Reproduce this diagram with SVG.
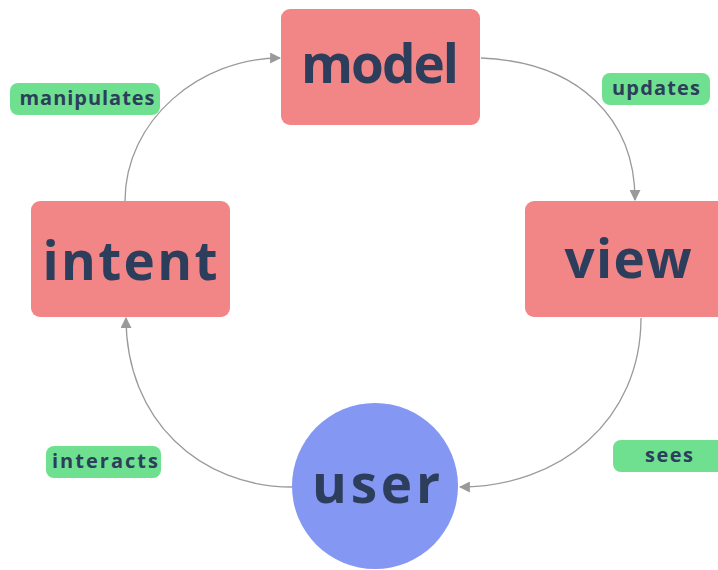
<svg xmlns="http://www.w3.org/2000/svg" width="718" height="570" viewBox="0 0 718 570">
<style>
.box{fill:#f28585;}
.user{fill:#8497f3;}
.lbl{fill:#6fe08f;}
.big{font-family:"Open Sans","DejaVu Sans",sans-serif;font-weight:bold;font-size:53px;fill:#2c3e5c;text-anchor:middle;}
.small{font-family:"Open Sans","DejaVu Sans",sans-serif;font-weight:bold;font-size:20px;fill:#2c3e5c;text-anchor:middle;}
.edge{fill:none;stroke:#9a9a9a;stroke-width:1.3;}
</style>
<defs>
<marker id="arr" viewBox="0 0 10 10" refX="9" refY="5" markerWidth="11" markerHeight="11" markerUnits="userSpaceOnUse" orient="auto">
<path d="M0,0 L10,5 L0,10 z" fill="#9a9a9a"/>
</marker>
</defs>
<rect width="718" height="570" fill="#ffffff"/>
<g id="connectors">
<path class="edge" d="M125,201 C125,120 200,58 280,58" marker-end="url(#arr)"/>
<path class="edge" d="M481,58 C580,62 635,120 635,200" marker-end="url(#arr)"/>
<path class="edge" d="M641,318 C641,420 560,487 460,487" marker-end="url(#arr)"/>
<path class="edge" d="M292,487 C200,487 126,420 126,318" marker-end="url(#arr)"/>
</g>
<g id="model">
<rect class="box" x="281" y="9" width="199" height="116" rx="9"/>
<text class="big" x="380" y="83" textLength="158">model</text>
</g>
<g id="intent">
<rect class="box" x="31" y="201" width="199" height="116" rx="9"/>
<text class="big" x="130" y="280" textLength="175">intent</text>
</g>
<g id="view">
<rect class="box" x="525" y="201" width="205" height="116" rx="9"/>
<text class="big" x="628" y="278" textLength="127">view</text>
</g>
<g id="user">
<circle class="user" cx="375" cy="486" r="83"/>
<text class="big" x="376" y="503" textLength="128">user</text>
</g>
<g id="label-manipulates">
<rect class="lbl" x="10" y="83" width="150" height="32" rx="8"/>
<text class="small" x="87" y="105" textLength="135">manipulates</text>
</g>
<g id="label-updates">
<rect class="lbl" x="602" y="73" width="108" height="32" rx="8"/>
<text class="small" x="656" y="95" textLength="88">updates</text>
</g>
<g id="label-interacts">
<rect class="lbl" x="46" y="446" width="115" height="32" rx="8"/>
<text class="small" x="105" y="468" textLength="106">interacts</text>
</g>
<g id="label-sees">
<rect class="lbl" x="613" y="440" width="112" height="32" rx="8"/>
<text class="small" x="669" y="462" textLength="48">sees</text>
</g>
</svg>
